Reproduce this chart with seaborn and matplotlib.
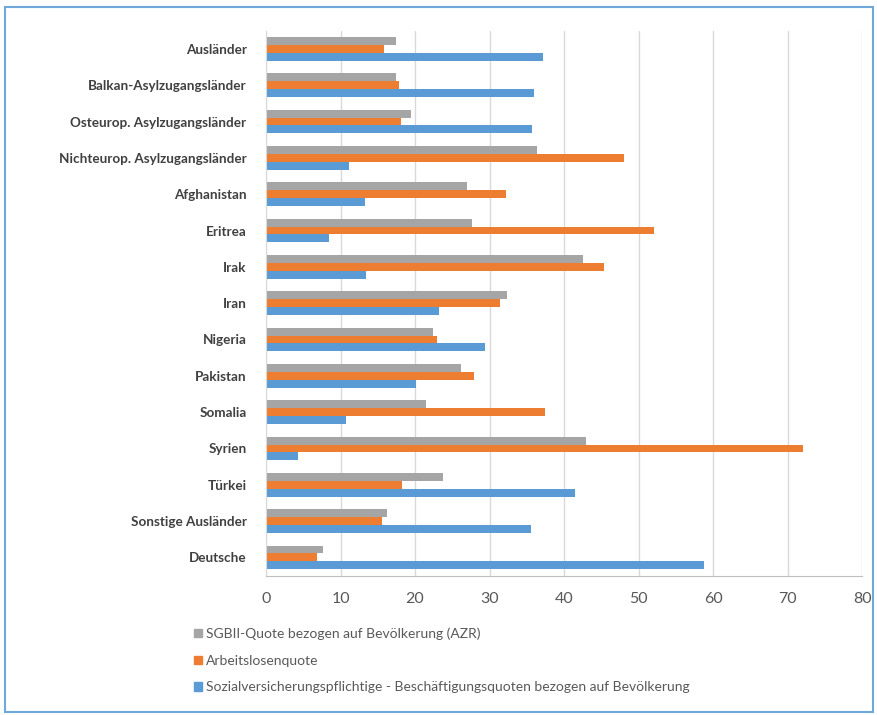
import matplotlib
matplotlib.use("Agg")
import matplotlib.pyplot as plt
import matplotlib.patches as mpatches
import seaborn as sns
import pandas as pd

categories = ["Ausländer", "Balkan-Asylzugangsländer", "Osteurop. Asylzugangsländer",
              "Nichteurop. Asylzugangsländer", "Afghanistan", "Eritrea", "Irak", "Iran",
              "Nigeria", "Pakistan", "Somalia", "Syrien", "Türkei", "Sonstige Ausländer",
              "Deutsche"]
series = ["SGBII-Quote bezogen auf Bevölkerung (AZR)",
          "Arbeitslosenquote",
          "Sozialversicherungspflichtige - Beschäftigungsquoten bezogen auf Bevölkerung"]
sgb2 = [17.5, 17.4, 19.5, 36.3, 27.0, 27.7, 42.5, 32.3, 22.4, 26.2, 21.5, 43.0, 23.8, 16.2, 7.6]
alq = [15.8, 17.8, 18.1, 48.1, 32.2, 52.0, 45.3, 31.4, 23.0, 27.9, 37.4, 72.0, 18.2, 15.5, 6.8]
svb = [37.2, 36.0, 35.7, 11.1, 13.3, 8.5, 13.4, 23.2, 29.4, 20.1, 10.7, 4.3, 41.4, 35.5, 58.8]
colors = ["#A5A5A5", "#ED7D31", "#5B9BD5"]
xticks = [0, 10, 20, 30, 40, 50, 60, 70, 80]

rows = []
for s, vals in zip(series, [sgb2, alq, svb]):
    for c, v in zip(categories, vals):
        rows.append({"Land": c, "Serie": s, "Wert": v})
df = pd.DataFrame(rows)

sns.set_style("white")
plt.rcParams["font.family"] = ["Lato", "DejaVu Sans"]

fig = plt.figure(figsize=(8.78, 7.15), dpi=100)
ax = fig.add_axes([0.303, 0.195, 0.679, 0.762])
sns.barplot(data=df, y="Land", x="Wert", hue="Serie", order=categories,
            hue_order=series, palette=colors, orient="h", width=0.65,
            legend=False, ax=ax, saturation=1, errorbar=None, linewidth=0)

ax.set_xlim(0, 80)
ax.set_xticks(xticks)
ax.set_xticklabels([str(t) for t in xticks], fontsize=11.5, color="#595959")
ax.set_ylabel("")
ax.set_xlabel("")
ax.tick_params(axis="y", length=0, pad=14)
ax.tick_params(axis="x", length=0, pad=12)
for lbl in ax.get_yticklabels():
    lbl.set_fontweight("bold")
    lbl.set_fontsize(9.7)
    lbl.set_color("#404040")
ax.grid(axis="x", color="#D9D9D9", linewidth=1)
ax.set_axisbelow(True)
for side in ["top", "right"]:
    ax.spines[side].set_visible(False)
ax.spines["left"].set_color("#D9D9D9")
ax.spines["bottom"].set_color("#BFBFBF")

handles = [mpatches.Patch(color=c, label=s) for c, s in zip(colors, series)]
leg = fig.legend(handles=handles, loc="upper left", bbox_to_anchor=(0.215, 0.13),
                 frameon=False, fontsize=10, handlelength=0.55, handleheight=0.55,
                 handletextpad=0.3, labelspacing=1.05, borderaxespad=0)
for t in leg.get_texts():
    t.set_color("#595959")

border = mpatches.Rectangle((0.006, 0.004), 0.988, 0.986, transform=fig.transFigure,
                            fill=False, edgecolor="#6FA8DC", linewidth=1.5)
fig.patches.append(border)

fig.savefig("out.png", dpi=100)
